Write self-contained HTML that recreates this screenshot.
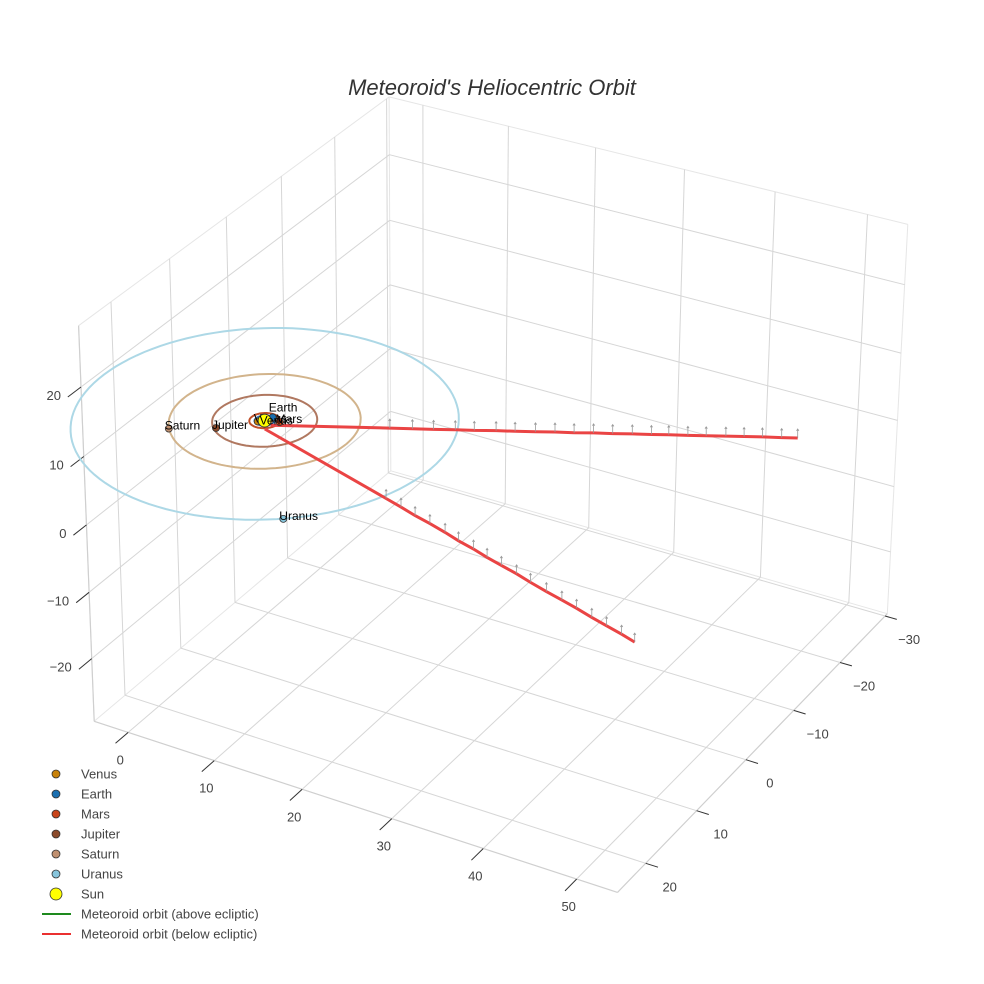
<!DOCTYPE html>
<html><head><meta charset="utf-8"><style>
html,body{margin:0;padding:0;background:#fff;}
svg{display:block;font-family:"Liberation Sans",Arial,sans-serif;}
</style></head><body>
<svg id="chart" width="984" height="984" viewBox="0 0 984 984" xmlns="http://www.w3.org/2000/svg">
<rect width="984" height="984" fill="#fff"/>
<text x="492" y="95" text-anchor="middle" font-size="22" font-style="italic" fill="#333">Meteoroid's Heliocentric Orbit</text>
<g id="grid"></g>
<g id="ticks"></g>
<g id="data"></g>
<g id="legend"></g>
</svg>
<script>
// ---- axis ranges & ticks ----
const xRange = [-4, 54.3];
const yRange = [-30.5, 25.4];
const zRange = [-29.6, 28.7];
const xTicks = [0, 10, 20, 30, 40, 50];
const yTicks = [-30, -20, -10, 0, 10, 20];
const zTicks = [-20, -10, 0, 10, 20];
// ---- data ----
const planetNames = ["Venus", "Earth", "Mars", "Jupiter", "Saturn", "Uranus"];
const planetColors = ["#c8820a", "#1a6fb0", "#c8441a", "#8b4a2b", "#c09070", "#87c5dc"];
const orbitColors = ["#d08a30", "#3a80c0", "#c0502a", "#b07860", "#d2b48c", "#add8e6"];
const orbitRadii = [0.72, 1.0, 1.52, 5.2, 9.5, 19.2];
const planetX = [-0.5, 0.35, 1.45, -3.4, -7.4, 11.8];
const planetY = [0.5, -0.94, -0.47, 3.6, 6.0, 15.2];
const sunPos = [0, 0, 0];
const met1X = [0.3, 10.9, 12.9, 14.8, 16.7, 18.4, 20.3, 22.0, 23.8, 25.5, 27.2, 28.9, 30.6, 32.3, 34.0, 35.5, 37.2, 38.8, 40.5, 42.1, 43.7, 45.4, 46.8];
const met1Y = [-0.6, -5.9, -6.9, -7.8, -8.8, -9.6, -10.6, -11.4, -12.3, -13.2, -14.0, -14.9, -15.7, -16.6, -17.4, -18.2, -19.0, -19.8, -20.7, -21.5, -22.3, -23.1, -23.8];
const met1Z = [-1, -1, -1, -1, -1, -1, -1, -1, -1, -1, -1, -1, -1, -1, -1, -1, -1, -1, -1, -1, -1, -1, -1];
const met2X = [0.2, 17.7, 19.8, 21.8, 23.8, 25.9, 27.8, 29.8, 31.7, 33.6, 35.6, 37.5, 39.6, 41.6, 43.5, 45.5, 47.4, 49.3, 51.0];
const met2Y = [0.3, 6.0, 6.7, 7.4, 8.0, 8.7, 9.4, 10.0, 10.7, 11.3, 11.9, 12.6, 13.3, 13.9, 14.5, 15.2, 15.8, 16.4, 17.0];
const met2Z = [-1, -1, -1, -1, -1, -1, -1, -1, -1, -1, -1, -1, -1, -1, -1, -1, -1, -1, -1];

// ---- fit a perspective camera to reference points ----
const [X0,X1]=xRange,[Y0,Y1]=yRange,[Z0,Z1]=zRange;
const refs = [
 [[X0,Y1,Z0],[99,727]],[[X1,Y1,Z0],[620,895]],[[X1,Y0,Z0],[884,613]],[[X0,Y0,Z0],[398,480]],
 [[X0,Y0,Z1],[393,100]],[[X1,Y0,Z1],[912,228]],[[X0,Y1,Z1],[80,333]],
 [[X0,Y1,20],[85,392]],[[X0,Y1,-20],[97,662]],
 [[X1,-30,Z0],[884,617]],[[X1,0,Z0],[747,759]],[[X1,20,Z0],[647,861]],
 [[0,Y1,Z0],[126,732]],[[50,Y1,Z0],[574,878]]
];
for(let k=0;k<10;k++) refs.push([[0,0,0],[262,417]]);
function nrm(p){return [(p[0]-X0)/(X1-X0),(p[1]-Y0)/(Y1-Y0),(p[2]-Z0)/(Z1-Z0)];}
const N=11, AtA=[], Atb=[];
for(let i=0;i<N;i++){AtA.push(new Array(N).fill(0));Atb.push(0);}
function addRow(r,b){for(let i=0;i<N;i++){Atb[i]+=r[i]*b;for(let j=0;j<N;j++)AtA[i][j]+=r[i]*r[j];}}
refs.forEach(([p,s])=>{const [X,Y,Z]=nrm(p);const sx=s[0]/1000,sy=s[1]/1000;
 addRow([X,Y,Z,1,0,0,0,0,-sx*X,-sx*Y,-sx*Z],sx);
 addRow([0,0,0,0,X,Y,Z,1,-sy*X,-sy*Y,-sy*Z],sy);});
function solve(A,b){const n=b.length;const M=A.map((r,i)=>r.concat([b[i]]));
 for(let c=0;c<n;c++){let mx=c;for(let r=c+1;r<n;r++)if(Math.abs(M[r][c])>Math.abs(M[mx][c]))mx=r;
  [M[c],M[mx]]=[M[mx],M[c]];for(let r=0;r<n;r++){if(r===c)continue;const f=M[r][c]/M[c][c];for(let k=c;k<=n;k++)M[r][k]-=f*M[c][k];}}
 return M.map((r,i)=>r[n]/r[i]);}
const P=solve(AtA,Atb);
function proj(x,y,z){const [X,Y,Z]=nrm([x,y,z]);const d=P[8]*X+P[9]*Y+P[10]*Z+1;
 return [1000*(P[0]*X+P[1]*Y+P[2]*Z+P[3])/d,1000*(P[4]*X+P[5]*Y+P[6]*Z+P[7])/d];}

const NS="http://www.w3.org/2000/svg";
function mk(tag,attrs,parent){const e=document.createElementNS(NS,tag);for(const k in attrs)e.setAttribute(k,attrs[k]);parent.appendChild(e);return e;}
function seg(a,b,col,w,parent){const p=proj(...a),q=proj(...b);
 return mk('line',{x1:p[0].toFixed(1),y1:p[1].toFixed(1),x2:q[0].toFixed(1),y2:q[1].toFixed(1),stroke:col,'stroke-width':w},parent);}
const grid=document.getElementById('grid'), ticksG=document.getElementById('ticks'), dataG=document.getElementById('data'), legG=document.getElementById('legend');
const GC="#d6d6d6", EC="#e6e6e6";
[[[X0,Y0,Z0],[X1,Y0,Z0]],[[X0,Y0,Z0],[X0,Y1,Z0]],[[X0,Y0,Z0],[X0,Y0,Z1]],[[X0,Y0,Z1],[X1,Y0,Z1]],[[X0,Y0,Z1],[X0,Y1,Z1]],
 [[X1,Y0,Z0],[X1,Y0,Z1]],[[X0,Y1,Z0],[X0,Y1,Z1]]].forEach(e=>{const l=seg(e[0],e[1],EC,1,grid);
 
 });
[[[X0,Y1,Z0],[X1,Y1,Z0]],[[X1,Y1,Z0],[X1,Y0,Z0]],[[X0,Y1,Z0],[X0,Y1,Z1]]].forEach(e=>{const l=seg(e[0],e[1],"#cfcfcf",1.2,grid);
 
 });
xTicks.forEach(x=>{let l=seg([x,Y0,Z0],[x,Y1,Z0],GC,1,grid);
 
 
 l=seg([x,Y0,Z0],[x,Y0,Z1],GC,1,grid);
 
 });
yTicks.forEach(y=>{let l=seg([X0,y,Z0],[X1,y,Z0],GC,1,grid);
 
 
 l=seg([X0,y,Z0],[X0,y,Z1],GC,1,grid);
 
 });
zTicks.forEach(z=>{let l=seg([X0,Y0,z],[X1,Y0,z],GC,1,grid);
 
 
 l=seg([X0,Y0,z],[X0,Y1,z],GC,1,grid);
 
 });
function label(x,y,txt,anchor,name){const t=mk('text',{x:x.toFixed(1),y:y.toFixed(1),'text-anchor':anchor,'font-size':13,fill:'#444'},ticksG);t.textContent=txt;
 
 }
xTicks.forEach(x=>{const l=seg([x,Y1,Z0],[x,Y1+2.2,Z0],"#333",1,ticksG);
 
 
 const p=proj(x,Y1,Z0);label(p[0]-8,p[1]+32,String(x).replace('-','\u2212'),'middle','x-tick-label');});
yTicks.forEach(y=>{const l=seg([X1,y,Z0],[X1+1.3,y,Z0],"#333",1,ticksG);
 
 
 const p=proj(X1,y,Z0);label(p[0]+24,p[1]+28,String(y).replace('-','\u2212'),'middle','y-tick-label');});
zTicks.forEach(z=>{const l=seg([X0,Y1,z],[X0,Y1+2.2,z],"#333",1,ticksG);
 
 
 const p=proj(X0,Y1,z);label(p[0]-20,p[1]+13,String(z).replace('-','\u2212'),'end','z-tick-label');});
orbitRadii.forEach((r,i)=>{let d='';for(let k=0;k<=120;k++){const a=2*Math.PI*k/120;const p=proj(r*Math.cos(a),r*Math.sin(a),0);d+=(k?'L':'M')+p[0].toFixed(1)+' '+p[1].toFixed(1);}
 const o=mk('path',{d:d,fill:'none',stroke:orbitColors[i],'stroke-width':2},dataG);
 
 });
function metLine(xs,ys,zs,name){let d='';xs.forEach((x,i)=>{const p=proj(x,ys[i],zs[i]);d+=(i?'L':'M')+p[0].toFixed(1)+' '+p[1].toFixed(1);});
 const l=mk('path',{d:d,fill:'none',stroke:'#ea4444','stroke-width':3},dataG);
 
 
 xs.forEach((x,i)=>{if(i===0)return;const p=proj(x,ys[i],zs[i]);
  const s=mk('path',{d:`M${p[0].toFixed(1)} ${p[1].toFixed(1)}v-9m-1.2 1.8l1.2-1.8l1.2 1.8`,stroke:'#999','stroke-width':0.8,fill:'none'},dataG);
  
  });}
metLine(met1X,met1Y,met1Z,'meteoroid-orbit-segment-1');
metLine(met2X,met2Y,met2Z,'meteoroid-orbit-segment-2');
planetNames.forEach((n,i)=>{const p=proj(planetX[i],planetY[i],0);
 const c=mk('circle',{cx:p[0].toFixed(1),cy:p[1].toFixed(1),r:3.5,fill:planetColors[i],stroke:'#333','stroke-width':0.8},dataG);
 
 
 const t=mk('text',{x:(p[0]-4).toFixed(1),y:(p[1]+(n==='Earth'?-6:1)).toFixed(1),'font-size':12,fill:'#000'},dataG);t.textContent=n;
 
 });
{const p=proj(...sunPos);const c=mk('circle',{cx:p[0].toFixed(1),cy:p[1].toFixed(1),r:6.5,fill:'#ffff00',stroke:'#333','stroke-width':1},dataG);
 
 
 const t=mk('text',{x:(p[0]-5).toFixed(1),y:(p[1]+4).toFixed(1),'font-size':12,fill:'#000'},dataG);t.textContent='Venus';
 
 }
const legItems=planetNames.map((n,i)=>({n:n,c:planetColors[i],t:'m',r:4})).concat([{n:'Sun',c:'#ffff00',t:'m',r:6},{n:'Meteoroid orbit (above ecliptic)',c:'#1e8a1e',t:'l'},{n:'Meteoroid orbit (below ecliptic)',c:'#ea3030',t:'l'}]);
legItems.forEach((it,i)=>{const y=774+i*20;const g=mk('g',{},legG);
 
 
 if(it.t==='m')mk('circle',{cx:56,cy:y,r:it.r,fill:it.c,stroke:'#333','stroke-width':0.8},g);
 else mk('line',{x1:42,y1:y,x2:71,y2:y,stroke:it.c,'stroke-width':2},g);
 const t=mk('text',{x:81,y:y+4.5,'font-size':13,fill:'#444'},g);t.textContent=it.n;});
</script>
</body></html>
